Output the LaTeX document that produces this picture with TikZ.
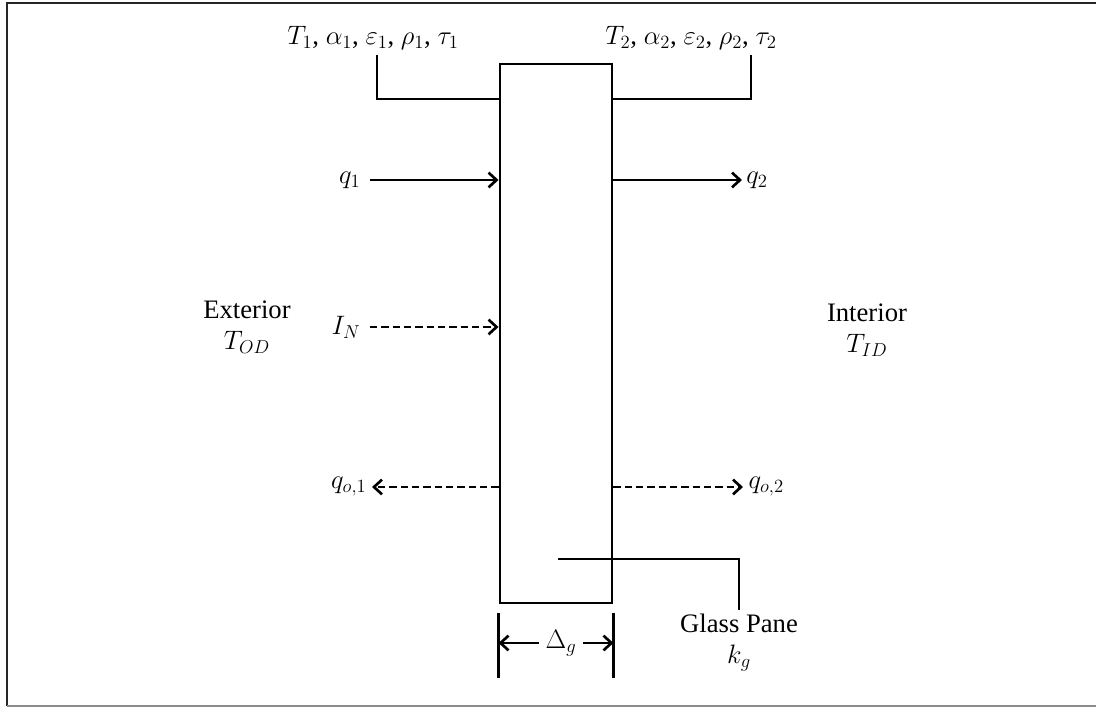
\RequirePackage{fix-cm}
\documentclass[tikz,border=0pt]{standalone}
\usepackage{fontspec}
\setmainfont{Liberation Serif}
\usetikzlibrary{arrows.meta,positioning}

\begin{document}
\begin{tikzpicture}[
   x=0.75pt,y=-0.75pt,
   every node/.style={font=\fontsize{20}{23}\selectfont,inner sep=2pt},
   wall/.style={draw=black,line width=2.2pt},
   lead/.style={black,line width=2.2pt},
   flow/.style={black,line width=2pt,
     -{Straight Barb[length=6pt,width=11pt,line width=2pt]}},
   rad/.style={flow,dash pattern=on 5.5pt off 3pt},
   side/.style={align=center,inner sep=1pt}
 ]
  \useasboundingbox (0,0) rectangle (1096,712);
  % Outer frame, open on the right.
  \draw[black!85,line width=2pt] (1096,3) -- (7,3) -- (7,706);
  \draw[black!45,line width=2pt] (7,706) -- (1096,706);

  % The glass pane.
  \node[wall,minimum width=84pt,minimum height=404.25pt,inner sep=0pt]
    (pane) at (556,333.5) {};

  % Surface properties on both faces.
  \node (props1) at (373,38) {$T_1$, $\alpha_1$, $\varepsilon_1$, $\rho_1$, $\tau_1$};
  \node (props2) at (691,38) {$T_2$, $\alpha_2$, $\varepsilon_2$, $\rho_2$, $\tau_2$};
  \coordinate (lead1) at (377,55);
  \coordinate (lead2) at (751,55);
  \draw[lead] (lead1) |- (pane.west |- 0,99);
  \draw[lead] (pane.east |- 0,99) -| (lead2);

  % Conducted heat through the pane.
  \coordinate (q1s) at (370,180);
  \coordinate (q2e) at (742,180);
  \node[left=5pt of q1s] (q1) {$q_1$};
  \node[right=1pt of q2e] (q2) {$q_2$};
  \draw[flow] (q1s) -- (q1s -| pane.west);
  \draw[flow] (q2e -| pane.east) -- (q2e);

  % Incident solar radiation.
  \coordinate (ins) at (370,327);
  \node[left=5pt of ins] (in) {$I_N$};
  \draw[rad] (ins) -- (ins -| pane.west);

  % Outgoing radiation on both sides.
  \coordinate (qo1e) at (372,487);
  \coordinate (qo2e) at (743,487);
  \node[left=2pt of qo1e] (qo1) {$q_{o,1}$};
  \node[right=2pt of qo2e] (qo2) {$q_{o,2}$};
  \draw[rad] (qo1e -| pane.west) -- (qo1e);
  \draw[rad] (qo2e -| pane.east) -- (qo2e);

  % Ambient sides.
  \node[side] (ext) at (247,327) {Exterior\\$T_{OD}$};
  \node[side] (int) at (867,330) {Interior\\$T_{ID}$};

  % Pane material label.
  \coordinate (gl) at (558,559);
  \coordinate (gp) at (739,610);
  \draw[lead] (gl) -| (gp);
  \node[side,below=2pt of gp] (glass) {Glass Pane\\$k_g$};

  % Thickness dimension.
  \draw[lead] (pane.west |- 0,613) -- (pane.west |- 0,678);
  \draw[lead] (pane.east |- 0,613) -- (pane.east |- 0,678);
  \node[inner sep=5pt] (dg) at (561,643) {$\Delta_g$};
  \draw[flow] (dg.west) -- (pane.west |- dg);
  \draw[flow] (dg.east) -- (pane.east |- dg);
\end{tikzpicture}
\end{document}
